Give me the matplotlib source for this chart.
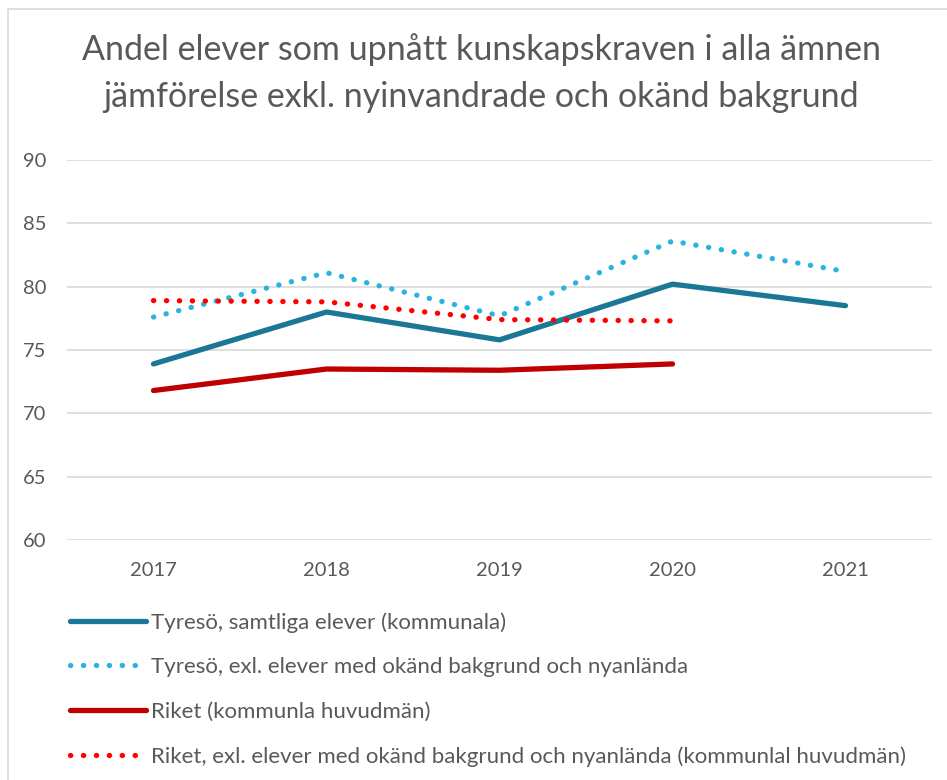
import matplotlib
matplotlib.use("Agg")
import matplotlib.pyplot as plt
from matplotlib.patches import Rectangle

plt.rcParams['font.family'] = ['Lato', 'DejaVu Sans']

years = ["2017", "2018", "2019", "2020", "2021"]
tyreso_all = [73.9, 78.0, 75.8, 80.2, 78.5]
tyreso_excl = [77.6, 81.1, 77.7, 83.6, 81.2]
riket_all = [71.8, 73.5, 73.4, 73.9]
riket_excl = [78.9, 78.8, 77.4, 77.3]

labels = [
    "Tyresö, samtliga elever (kommunala)",
    "Tyresö, exl. elever med okänd bakgrund och nyanlända",
    "Riket (kommunla huvudmän)",
    "Riket, exl. elever med okänd bakgrund och nyanlända (kommunlal huvudmän)",
]

text_color = "#595959"
dots = (0, (0.05, 2.4))

fig = plt.figure(figsize=(9.47, 7.8), dpi=100)
fig.patches.append(Rectangle((8 / 947, -0.01), 1.0, 1 - 9 / 780 + 0.01,
                             transform=fig.transFigure, fill=False,
                             edgecolor="#d9d9d9", linewidth=1.2))

ax = fig.add_axes([67 / 947, 1 - 540 / 780, 865 / 947, 380 / 780])

x = list(range(len(years)))
ax.plot(x, tyreso_all, color="#1a7896", lw=3.8, solid_capstyle="round",
        label=labels[0])
ax.plot(x, tyreso_excl, color="#29b4e0", lw=3.8, linestyle=dots,
        dash_capstyle="round", label=labels[1])
ax.plot(x[:len(riket_all)], riket_all, color="#c00000", lw=3.8,
        solid_capstyle="round", label=labels[2])
ax.plot(x[:len(riket_excl)], riket_excl, color="#ff0000", lw=3.8,
        linestyle=dots, dash_capstyle="round", label=labels[3])

ax.set_xlim(-0.5, len(years) - 0.5)
ax.set_ylim(60, 90)
ax.set_yticks(range(60, 91, 5))
ax.set_xticks(x)
ax.set_xticklabels(years)
ax.grid(axis="y", color="#d9d9d9", linewidth=1.2)
ax.set_axisbelow(True)
for s in ax.spines.values():
    s.set_visible(False)
ax.tick_params(length=0, labelsize=14.5, labelcolor=text_color)
ax.tick_params(axis="y", pad=15)
ax.tick_params(axis="x", pad=16)

fig.text(0.508, 1 - 50 / 780, "Andel elever som upnått kunskapskraven i alla ämnen",
         ha="center", va="center", fontsize=24.5, color=text_color)
fig.text(0.508, 1 - 97 / 780, "jämförelse exkl. nyinvandrade och okänd bakgrund",
         ha="center", va="center", fontsize=24.5, color=text_color)

leg = fig.legend(loc="upper left", bbox_to_anchor=(50 / 947, 1 - 592 / 780),
                 frameon=False, fontsize=16, handlelength=3.4,
                 handletextpad=0.25, labelspacing=1.1, labelcolor=text_color)

fig.savefig("out.png", dpi=100)
